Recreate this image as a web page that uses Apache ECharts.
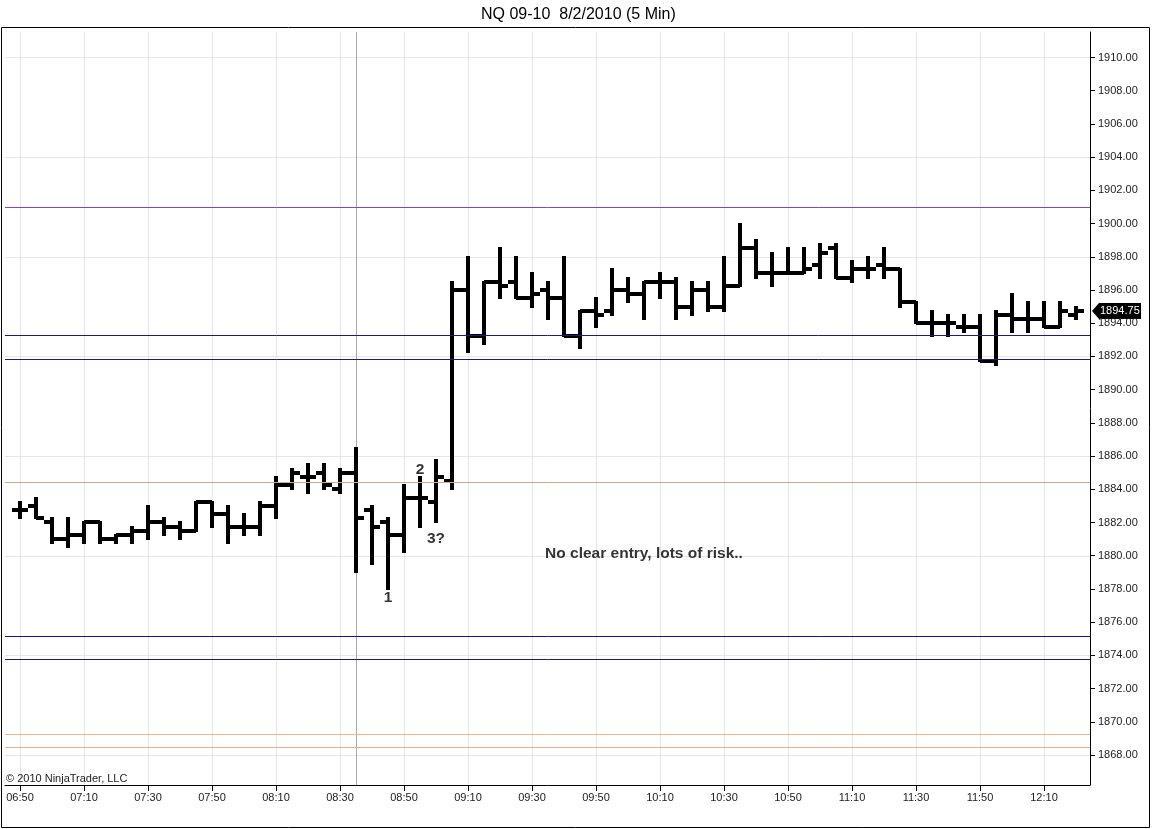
<!DOCTYPE html>
<html><head><meta charset="utf-8">
<script src="https://cdn.jsdelivr.net/npm/echarts@6/dist/echarts.min.js"></script>
<style>html,body{margin:0;padding:0;background:#fff}#c{width:1152px;height:829px}</style>
</head><body><div id="c"></div>
<script>
// ---------- DATA ----------
const chartTitle = 'NQ 09-10  8/2/2010 (5 Min)';
const copyrightText = '\u00A9 2010 NinjaTrader, LLC';
// x tick labels (every 4th 5-minute bar, starting with bar 0 = 06:50)
const timeLabels = ['06:50','07:10','07:30','07:50','08:10','08:30','08:50','09:10','09:30','09:50','10:10','10:30','10:50','11:10','11:30','11:50','12:10'];
// OHLC of the 5-minute bars, 06:50 .. 12:20
const opens  = [1882.75,1883.0,1882.0,1881.0,1881.25,1882.0,1881.0,1881.25,1881.5,1882.0,1881.75,1881.5,1883.25,1882.5,1881.75,1881.75,1883.0,1884.25,1884.75,1885.0,1884.0,1885.0,1882.75,1882.0,1881.25,1883.5,1883.25,1884.5,1896.0,1893.25,1896.5,1896.5,1895.5,1896.0,1895.5,1893.25,1894.75,1894.75,1896.0,1895.75,1896.5,1896.5,1895.0,1896.0,1895.0,1896.25,1898.5,1897.0,1897.0,1897.0,1897.5,1898.5,1896.75,1897.25,1897.5,1897.25,1895.25,1894.0,1894.0,1893.75,1893.75,1891.75,1894.5,1894.25,1894.25,1893.75,1894.5];
const highs  = [1883.25,1883.5,1882.25,1882.25,1882.0,1882.0,1881.25,1881.75,1883.0,1882.25,1882.0,1883.25,1883.25,1883.0,1882.5,1883.25,1884.75,1885.25,1885.5,1885.5,1885.25,1886.5,1883.0,1882.25,1884.25,1884.75,1885.75,1896.5,1898.0,1896.5,1898.5,1898.0,1897.0,1896.5,1898.0,1894.75,1895.5,1897.25,1896.75,1896.5,1897.0,1896.75,1896.5,1896.5,1898.0,1900.0,1899.0,1898.25,1898.5,1898.5,1898.75,1898.75,1897.75,1898.0,1898.5,1897.25,1895.25,1894.75,1894.5,1894.5,1894.5,1894.75,1895.75,1895.25,1895.25,1895.25,1895.0];
const lows   = [1882.25,1882.25,1880.75,1880.5,1880.75,1880.75,1880.75,1880.75,1881.0,1881.25,1881.0,1881.5,1881.75,1880.75,1881.25,1881.25,1882.25,1884.0,1883.75,1884.0,1883.75,1879.0,1879.5,1878.0,1880.25,1881.75,1882.0,1884.0,1892.25,1892.75,1895.5,1895.5,1895.0,1894.25,1893.25,1892.5,1893.75,1894.5,1895.25,1894.25,1895.5,1894.25,1894.5,1894.75,1894.75,1896.25,1896.75,1896.25,1897.0,1897.0,1896.75,1896.75,1896.5,1896.75,1896.75,1895.0,1894.0,1893.25,1893.25,1893.5,1891.75,1891.5,1893.5,1893.5,1893.75,1893.75,1894.25];
const closes = [1882.75,1882.25,1881.0,1881.25,1882.0,1881.0,1881.25,1881.5,1882.0,1881.75,1881.5,1883.25,1882.5,1881.75,1881.75,1883.0,1884.25,1885.0,1884.75,1884.25,1885.0,1882.25,1881.75,1881.25,1883.5,1883.5,1884.75,1896.0,1893.25,1896.5,1896.25,1895.5,1895.75,1895.5,1893.25,1894.75,1894.5,1896.0,1895.75,1896.5,1896.5,1895.0,1896.0,1895.0,1896.25,1898.5,1897.0,1897.0,1897.0,1897.25,1898.25,1896.75,1897.25,1897.25,1897.25,1895.25,1894.0,1894.0,1894.0,1893.75,1891.75,1894.5,1894.25,1894.25,1893.75,1894.75,1894.75];
// right-axis price labels (every 2 points) and chart grid rows (every 6 points)
const priceTicks = [1868,1870,1872,1874,1876,1878,1880,1882,1884,1886,1888,1890,1892,1894,1896,1898,1900,1902,1904,1906,1908,1910];
const gridPrices = [1868,1874,1880,1886,1892,1898,1904,1910];
// horizontal price levels drawn on the chart
const levels = [1901.0, 1893.3, 1891.85, 1884.42, 1875.17, 1873.76, 1869.25, 1868.46];
// bar index of the vertical marker line (08:35)
const markerBars = [21];
// text annotations
const noteTexts  = ['1','2','3?','No clear entry, lots of risk..'];
const noteBars   = [23, 25, 26, 39];
const notePrices = [1877.5, 1885.2, 1881.0, 1880.1];

// ---------- CHART ----------
const FONT = 'Liberation Sans, Arial, sans-serif';
const levelColors = ['#8048c4','#1a1a8c','#1a1a8c','#d2aa88','#1010b4','#1c1c78','#f2b48c','#eeb088'];
const xTicks = timeLabels.map((_, k) => k * 4);
const ohlcData = opens.map((o, i) => [i, o, highs[i], lows[i], closes[i]]);
const notesData = noteTexts.map((t, k) => ({ name: t, value: [noteBars[k], notePrices[k]] }));
const xMin = -0.9375, xMax = 66.875;
const yMin = 1866.193, yMax = 1911.535;

const chart = echarts.init(document.getElementById('c'), null, { renderer: 'canvas' });

function renderOHLC(params, api) {
  const i = api.value(0);
  const pO = api.coord([i, api.value(1)]);
  const pH = api.coord([i, api.value(2)]);
  const pL = api.coord([i, api.value(3)]);
  const pC = api.coord([i, api.value(4)]);
  const w = 8, x = Math.round(pH[0]);
  const st = { stroke: '#000', lineWidth: 4, lineCap: 'butt' };
  const yo = Math.round(pO[1]), yc = Math.round(pC[1]);
  return {
    type: 'group',
    children: [
      { type: 'line', shape: { x1: x, y1: Math.round(pH[1]) - 1, x2: x, y2: Math.round(pL[1]) + 1 }, style: st },
      { type: 'line', shape: { x1: x - w, y1: yo, x2: x, y2: yo }, style: st },
      { type: 'line', shape: { x1: x, y1: yc, x2: x + w, y2: yc }, style: st }
    ]
  };
}

function hLineRenderer(colorOf) {
  return function (params, api) {
    const p = api.coord([xMin, api.value(0)]);
    const cs = params.coordSys;
    const y = Math.round(p[1]) + 0.5;
    return { type: 'line', shape: { x1: cs.x, y1: y, x2: cs.x + cs.width, y2: y },
             style: { stroke: colorOf(params.dataIndex), lineWidth: 1 } };
  };
}

function vLineRenderer(params, api) {
  const p = api.coord([api.value(0), yMin]);
  const cs = params.coordSys;
  const x = Math.round(p[0]) + 0.5;
  return { type: 'line', shape: { x1: x, y1: cs.y, x2: x, y2: cs.y + cs.height },
           style: { stroke: '#a9a9a9', lineWidth: 1 } };
}

chart.setOption({
  animation: false,
  backgroundColor: '#fff',
  title: {
    text: chartTitle, left: 476, top: 2,
    textStyle: { fontFamily: FONT, fontSize: 16, fontWeight: 'normal', color: '#000' }
  },
  grid: { left: 5, right: 62, top: 32, bottom: 44, containLabel: false },
  xAxis: {
    type: 'value', min: xMin, max: xMax,
    axisLine: { show: true, onZero: false, lineStyle: { color: '#000', width: 1 } },
    axisTick: { show: true, length: 6, customValues: xTicks, lineStyle: { color: '#000' } },
    axisLabel: { customValues: xTicks, formatter: v => timeLabels[Math.round(v / 4)], color: '#222', fontSize: 11, fontFamily: FONT, margin: 7 },
    splitLine: { show: true, lineStyle: { color: '#e6e6e6', width: 1 } },
    minorSplitLine: { show: false }
  },
  yAxis: {
    type: 'value', position: 'right', min: yMin, max: yMax,
    axisLine: { show: true, onZero: false, lineStyle: { color: '#000', width: 1 } },
    axisTick: { show: true, length: 5, customValues: priceTicks, lineStyle: { color: '#000' } },
    axisLabel: { customValues: priceTicks, formatter: v => v.toFixed(2), color: '#222', fontSize: 11, fontFamily: FONT, margin: 8 },
    splitLine: { show: false, lineStyle: { opacity: 0 } },
    splitArea: { show: false },
    minorSplitLine: { show: false }
  },
  series: [
    {
      type: 'custom', name: 'gridRows', data: gridPrices.map(v => [v]), encode: { y: 0 }, z: 1,
      renderItem: hLineRenderer(() => '#e6e6e6'), silent: true
    },
    {
      type: 'custom', name: 'marker', data: markerBars.map(v => [v]), encode: { x: 0 }, z: 2,
      renderItem: vLineRenderer, silent: true
    },
    {
      type: 'custom', name: 'NQ', renderItem: renderOHLC, data: ohlcData,
      encode: { x: 0, y: [1, 2, 3, 4] }, z: 3, clip: true, silent: true
    },
    {
      type: 'custom', name: 'levels', data: levels.map(v => [v]), encode: { y: 0 }, z: 4,
      renderItem: hLineRenderer(k => levelColors[k]), silent: true
    },
    {
      type: 'scatter', name: 'notes', data: notesData, z: 6, symbolSize: 1, silent: true,
      itemStyle: { color: 'rgba(0,0,0,0)' },
      label: { show: true, position: 'inside', formatter: p => p.name, color: '#000', fontWeight: 'bold', fontSize: 15.5, fontFamily: FONT }
    }
  ]
});

// last-price marker on the right axis, positioned through the y scale
const last = closes[closes.length - 1];
const ly = Math.round(chart.convertToPixel({ yAxisIndex: 0 }, last));
chart.setOption({
  graphic: [
    { type: 'rect', silent: true, shape: { x: 1.5, y: 27.5, width: 1148, height: 800 }, style: { fill: null, stroke: '#000', lineWidth: 1 } },
    { type: 'text', silent: true, x: 6, y: 779, style: { text: copyrightText, fill: '#222', font: '11px ' + FONT, verticalAlign: 'middle', align: 'left' } },
    { type: 'polygon', silent: true, shape: { points: [[1092, ly], [1099, ly - 8], [1141, ly - 8], [1141, ly + 8], [1099, ly + 8]] }, style: { fill: '#000' } },
    { type: 'text', silent: true, x: 1100, y: ly, style: { text: last.toFixed(2), fill: '#fff', font: '11px ' + FONT, verticalAlign: 'middle', align: 'left' } }
  ]
});
</script>
</body></html>
